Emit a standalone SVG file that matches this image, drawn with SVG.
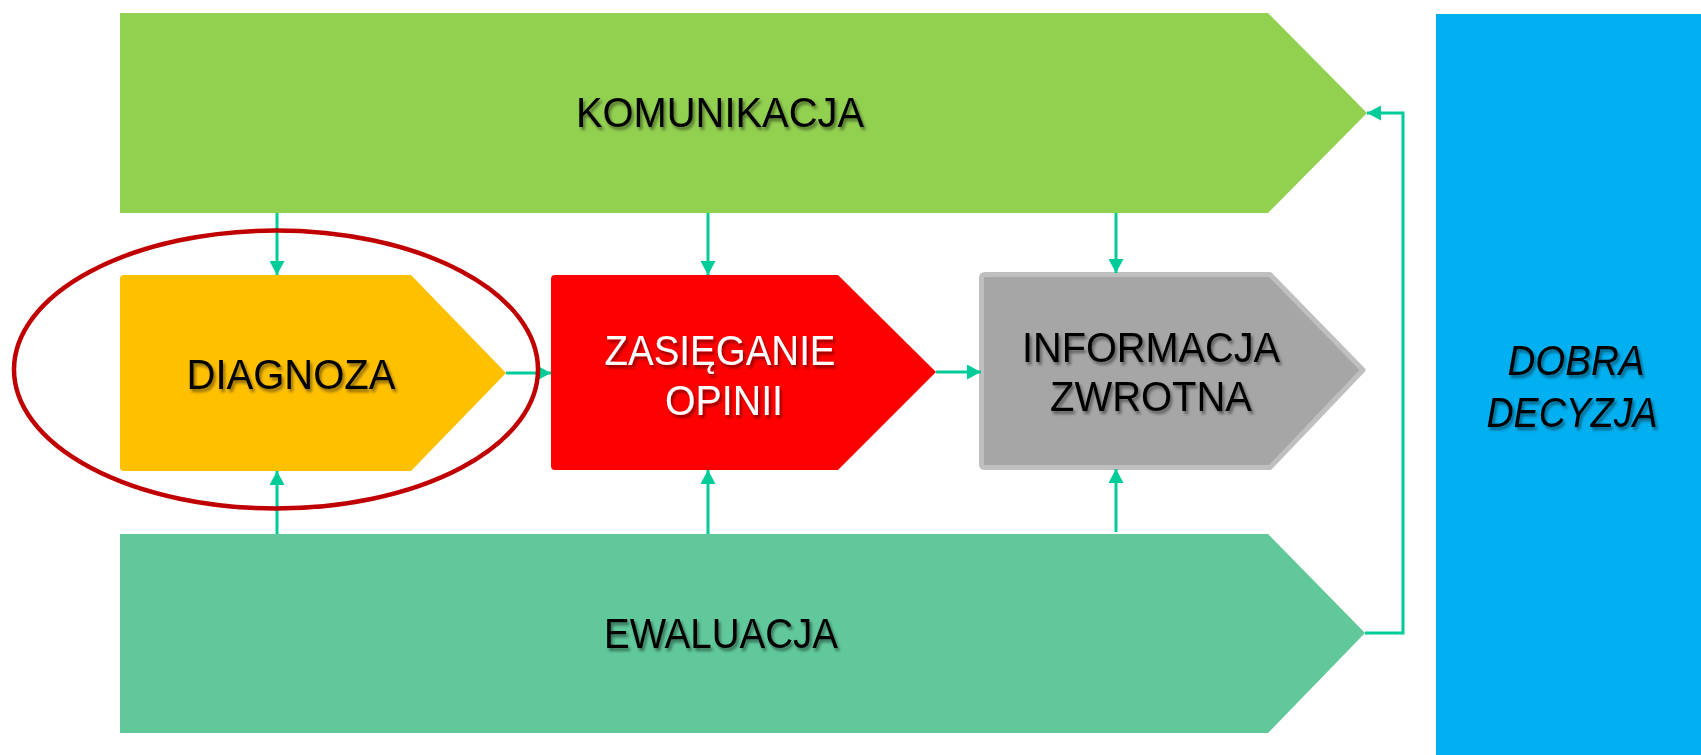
<svg xmlns="http://www.w3.org/2000/svg" width="1701" height="755" viewBox="0 0 1701 755">
  <defs>
    <marker id="arr" markerUnits="userSpaceOnUse" markerWidth="15" markerHeight="15" refX="14" refY="7.5" orient="auto">
      <path d="M0,0 L14,7.5 L0,15 z" fill="#00CC99"/>
    </marker>
    <filter id="sh" x="-10%" y="-30%" width="120%" height="160%">
      <feGaussianBlur in="SourceAlpha" stdDeviation="1.5"/>
      <feOffset dx="2" dy="2.5" result="b"/>
      <feComponentTransfer><feFuncA type="linear" slope="0.45"/></feComponentTransfer>
      <feMerge><feMergeNode/><feMergeNode in="SourceGraphic"/></feMerge>
    </filter>
  </defs>
  <style>
    .t { font-family: "Liberation Sans", Arial, sans-serif; font-size: 42px; fill: #000; text-anchor: middle; filter: url(#sh); }
    .w { fill: #FFFFFF; }
    .i { font-style: italic; }
    .c { fill: none; stroke: #00CC99; stroke-width: 3; }
  </style>
  <rect width="1701" height="755" fill="#FFFFFF"/>

  <g id="komunikacja">
    <polygon points="120,13 1268,13 1367,113 1268,213 120,213" fill="#92D050"/>
    <text class="t" x="720" y="127" textLength="288" lengthAdjust="spacingAndGlyphs">KOMUNIKACJA</text>
  </g>

  <g id="ewaluacja">
    <polygon points="120,534 1268,534 1365,633 1268,733 120,733" fill="#60C89B"/>
    <text class="t" x="721" y="648" textLength="234" lengthAdjust="spacingAndGlyphs">EWALUACJA</text>
  </g>

  <g id="diagnoza">
    <path d="M124,275 L411,275 L506,373 L411,471 L124,471 Q120,471 120,467 L120,279 Q120,275 124,275 Z" fill="#FFC000"/>
    <text class="t" x="291" y="389" textLength="209" lengthAdjust="spacingAndGlyphs">DIAGNOZA</text>
  </g>

  <g id="zasieganie">
    <path d="M555,275 L838,275 L936,372 L838,470 L555,470 Q551,470 551,466 L551,279 Q551,275 555,275 Z" fill="#FF0000"/>
    <text class="t w" x="720" y="365" textLength="231" lengthAdjust="spacingAndGlyphs">ZASIĘGANIE</text>
    <text class="t w" x="724" y="415" textLength="118" lengthAdjust="spacingAndGlyphs">OPINII</text>
  </g>

  <g id="informacja">
    <path d="M985,274.5 L1270,274.5 L1363,370 L1270,467.5 L985,467.5 Q981.5,467.5 981.5,464 L981.5,278 Q981.5,274.5 985,274.5 Z" fill="#A6A6A6" stroke="#BFBFBF" stroke-width="5" stroke-linejoin="round"/>
    <text class="t" x="1151" y="362" textLength="258" lengthAdjust="spacingAndGlyphs">INFORMACJA</text>
    <text class="t" x="1151" y="411" textLength="202" lengthAdjust="spacingAndGlyphs">ZWROTNA</text>
  </g>

  <g id="dobra-decyzja">
    <rect x="1436" y="14" width="265" height="745" fill="#00B0F0"/>
    <text class="t i" x="1576" y="375" textLength="137" lengthAdjust="spacingAndGlyphs">DOBRA</text>
    <text class="t i" x="1572" y="427" textLength="171" lengthAdjust="spacingAndGlyphs">DECYZJA</text>
  </g>

  <g id="connectors">
    <line class="c" x1="277" y1="213" x2="277" y2="275" marker-end="url(#arr)"/>
    <line class="c" x1="708" y1="213" x2="708" y2="275" marker-end="url(#arr)"/>
    <line class="c" x1="1116" y1="213" x2="1116" y2="273" marker-end="url(#arr)"/>
    <line class="c" x1="277" y1="534" x2="277" y2="471" marker-end="url(#arr)"/>
    <line class="c" x1="708" y1="534" x2="708" y2="470" marker-end="url(#arr)"/>
    <line class="c" x1="1116" y1="532" x2="1116" y2="469" marker-end="url(#arr)"/>
    <line class="c" x1="506" y1="373" x2="551" y2="373" marker-end="url(#arr)"/>
    <line class="c" x1="936" y1="372" x2="981" y2="372" marker-end="url(#arr)"/>
    <polyline class="c" points="1365,633 1403,633 1403,113 1367,113" marker-end="url(#arr)"/>
  </g>

  <g id="highlight">
    <ellipse cx="276" cy="369.5" rx="262" ry="139" fill="none" stroke="#C00000" stroke-width="4.5"/>
  </g>
</svg>
